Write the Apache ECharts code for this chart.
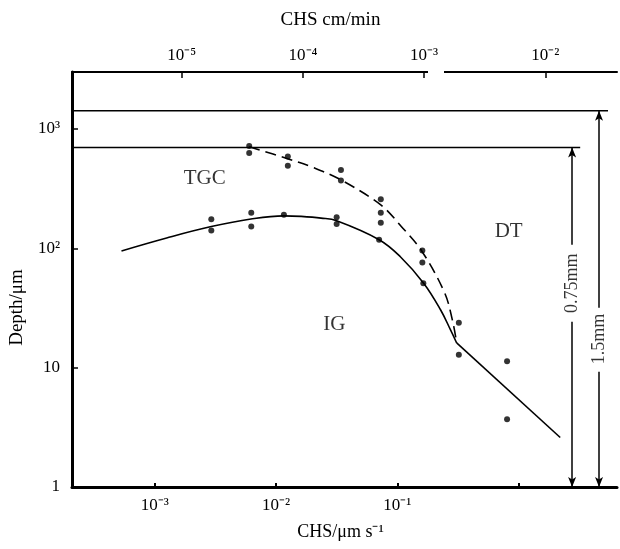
<!DOCTYPE html>
<html>
<head>
<meta charset="utf-8">
<style>
html,body{margin:0;padding:0;background:#fff}
#main{width:620px;height:549px}
</style>
<script src="https://cdn.jsdelivr.net/npm/echarts@6/dist/echarts.min.js"></script>
</head>
<body>
<div id="main"></div>
<script>
// CHS in um/s (bottom axis), depth in um
var xMin = 2.07e-4, xMax = 6.5;
var yMin = 1, yMax = 3000;
var umsToCmMin = 0.006; // 1 um/s = 0.006 cm/min

var bottomTicks = [0.001, 0.01, 0.1, 1];
var bottomLabels = ['10⁻³', '10⁻²', '10⁻¹', ''];
var topTicks = [1e-5, 1e-4, 1e-3, 1e-2];
var topLabels = ['10⁻⁵', '10⁻⁴', '10⁻³', '10⁻²'];
var yTicks = [1, 10, 100, 1000];
var yLabels = ['1', '10', '10²', '10³'];

// IG boundary (solid) and TGC boundary (dashed)
var solidCurve = [[5.3e-4, 95], [1.25e-3, 122], [2.92e-3, 152], [6.2e-3, 176], [0.0116, 187], [0.0161, 185],
  [0.0235, 179], [0.0316, 170], [0.0708, 118], [0.106, 85], [0.165, 51], [0.228, 30.4], [0.275, 20.7], [0.309, 16.1]];
var solidTail = [[0.309, 16.1], [2.21, 2.6]];
var dashedCurve = [[6.0e-3, 710], [0.0126, 561], [0.0206, 472], [0.0343, 374], [0.0731, 231], [0.107, 154],
  [0.159, 95], [0.246, 42.3], [0.286, 24.6], [0.309, 16.1]];

// measured points
var points = [[6.0e-3, 721], [6.0e-3, 630], [2.92e-3, 175], [2.92e-3, 141], [6.24e-3, 199], [6.24e-3, 152],
  [0.0116, 191], [0.0125, 587], [0.0125, 491], [0.0343, 454], [0.0343, 369], [0.0316, 182], [0.0316, 160],
  [0.0731, 258], [0.0731, 199], [0.0731, 164], [0.0708, 118], [0.161, 96], [0.161, 76], [0.164, 51],
  [0.322, 23.8], [0.322, 12.8], [0.805, 11.3], [0.805, 3.7]];

// 1.5 mm and 0.75 mm depth markers
var depth15 = 1420, depth075 = 698;
var line15 = [[xMin, depth15], [5.48, depth15]];
var line075 = [[xMin, depth075], [3.23, depth075]];
var arrow15X = 4.62, arrow075X = 2.77;

var regionLabels = [
  {name: 'TGC', value: [2.58e-3, 387]},
  {name: 'IG', value: [0.0302, 22.8]},
  {name: 'DT', value: [0.83, 138]}
];
var sizeLabels = [
  {name: '0.75mm', value: [arrow075X, 51]},
  {name: '1.5mm', value: [arrow15X, 17.4]}
];

var font = 'Liberation Serif';

function pick(ticks, labels) {
  return function (v) {
    for (var i = 0; i < ticks.length; i++) {
      if (Math.abs(Math.log10(v) - Math.log10(ticks[i])) < 0.01) return labels[i];
    }
    return '';
  };
}

// vertical double arrow split around its label
function arrowPair(x, top, gapTop, gapBottom, bottom) {
  return [
    [{coord: [x, top], symbol: 'arrow'}, {coord: [x, gapTop], symbol: 'none'}],
    [{coord: [x, gapBottom], symbol: 'none'}, {coord: [x, bottom], symbol: 'arrow'}]
  ];
}

var myChart = echarts.init(document.getElementById('main'));

var option = {
  animation: false,
  backgroundColor: '#fff',
  grid: {left: 70, right: 3, top: 72, bottom: 62},
  xAxis: [{
    type: 'log', position: 'bottom', min: xMin, max: xMax,
    name: 'CHS/μm s⁻¹', nameLocation: 'middle', nameGap: 36,
    nameTextStyle: {fontFamily: font, fontSize: 18, color: '#000', padding: [0, 8, 0, 0]},
    axisLine: {lineStyle: {color: '#000', width: 3}},
    axisTick: {inside: true, length: 4, lineStyle: {color: '#000', width: 2}, customValues: bottomTicks},
    axisLabel: {fontFamily: font, fontSize: 17, color: '#000', margin: 10,
      customValues: bottomTicks, formatter: pick(bottomTicks, bottomLabels)},
    splitLine: {show: false}, minorTick: {show: false}
  }, {
    type: 'log', position: 'top', min: xMin * umsToCmMin, max: xMax * umsToCmMin,
    name: 'CHS cm/min', nameLocation: 'middle', nameGap: 42,
    nameTextStyle: {fontFamily: font, fontSize: 19, color: '#000', padding: [0, 28, 0, 0]},
    axisLine: {lineStyle: {color: '#000', width: 2}},
    axisTick: {inside: true, length: 6, lineStyle: {color: '#000', width: 1.5}, customValues: topTicks},
    axisLabel: {fontFamily: font, fontSize: 17, color: '#000', margin: 8,
      customValues: topTicks, formatter: pick(topTicks, topLabels)},
    splitLine: {show: false}
  }],
  yAxis: {
    type: 'log', min: yMin, max: yMax,
    name: 'Depth/μm', nameLocation: 'middle', nameGap: 30,
    nameTextStyle: {fontFamily: font, fontSize: 19, color: '#000', padding: [0, 56, 0, 0]},
    axisLine: {lineStyle: {color: '#000', width: 3}},
    axisTick: {inside: true, length: 6, lineStyle: {color: '#000', width: 1.5}, customValues: yTicks},
    axisLabel: {fontFamily: font, fontSize: 17, color: '#000', margin: 12,
      customValues: yTicks, formatter: pick(yTicks, yLabels)},
    splitLine: {show: false}
  },
  series: [{
    name: 'IG', type: 'line', data: solidCurve, smooth: 0.4, symbol: 'none',
    lineStyle: {color: '#000', width: 1.6}
  }, {
    name: 'IG tail', type: 'line', data: solidTail, symbol: 'none',
    lineStyle: {color: '#000', width: 1.6}
  }, {
    name: 'TGC', type: 'line', data: dashedCurve, smooth: 0.35, symbol: 'none',
    lineStyle: {color: '#000', width: 1.6, type: [11, 6]}
  }, {
    name: 'points', type: 'scatter', data: points, symbolSize: 6,
    itemStyle: {color: '#000'}
  }, {
    name: '1.5mm', type: 'line', data: line15, symbol: 'none',
    lineStyle: {color: '#000', width: 1.5},
    markLine: {
      silent: true, symbolSize: [6, 10],
      lineStyle: {color: '#000', width: 1.5, type: 'solid'}, label: {show: false},
      data: arrowPair(arrow15X, depth15, 31.7, 9.25, yMin)
    }
  }, {
    name: '0.75mm', type: 'line', data: line075, symbol: 'none',
    lineStyle: {color: '#000', width: 1.5},
    markLine: {
      silent: true, symbolSize: [6, 10],
      lineStyle: {color: '#000', width: 1.5, type: 'solid'}, label: {show: false},
      data: arrowPair(arrow075X, depth075, 107, 24.2, yMin)
    }
  }, {
    name: 'regions', type: 'scatter', data: regionLabels, symbolSize: 0,
    label: {show: true, position: 'inside', formatter: '{b}', fontFamily: font, fontSize: 21, color: '#000'}
  }, {
    name: 'sizes', type: 'scatter', data: sizeLabels, symbolSize: 0,
    label: {show: true, position: 'inside', formatter: '{b}', rotate: 90, fontFamily: font, fontSize: 18, color: '#000'}
  }],
  graphic: [{
    type: 'rect', left: 428, top: 68, shape: {width: 16, height: 8}, style: {fill: '#fff'}, z: 100
  }]
};

myChart.setOption(option);
</script>
</body>
</html>
